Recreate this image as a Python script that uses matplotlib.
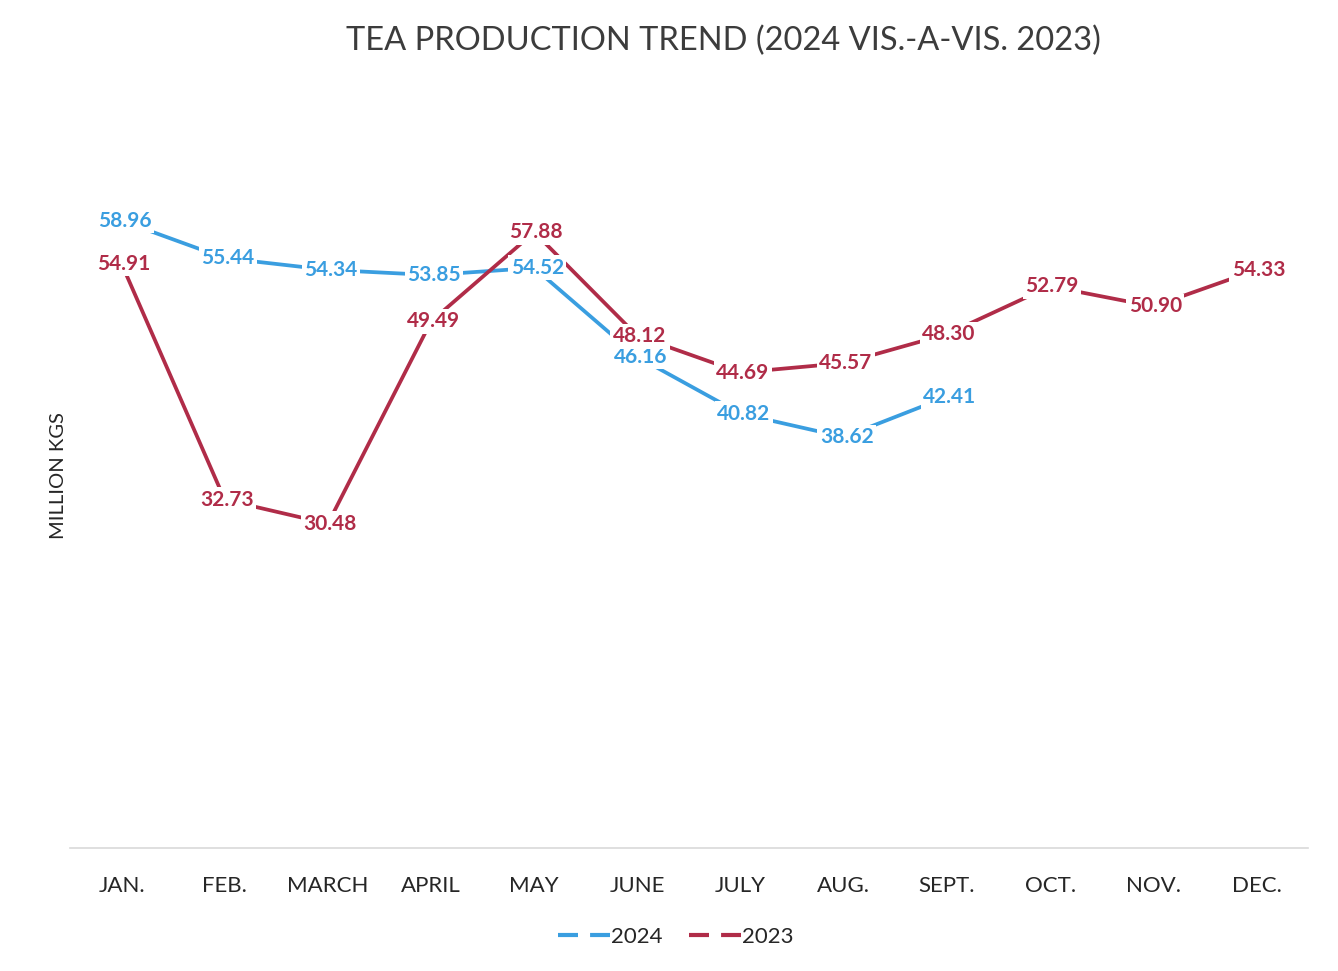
import numpy as np
import matplotlib.pyplot as plt
from matplotlib.lines import Line2D

months = ["JAN.", "FEB.", "MARCH", "APRIL", "MAY", "JUNE", "JULY", "AUG.",
          "SEPT.", "OCT.", "NOV.", "DEC."]
prod_2024 = [58.96, 55.44, 54.34, 53.85, 54.52, 46.16, 40.82, 38.62, 42.41]
prod_2023 = [54.91, 32.73, 30.48, 49.49, 57.88, 48.12, 44.69, 45.57, 48.30,
             52.79, 50.90, 54.33]

blue = "#3a9ee0"
red = "#b02c48"
font = "Lato"

plt.rcParams['font.family'] = [font, 'DejaVu Sans']

fig = plt.figure(figsize=(13.38, 9.71), dpi=100)
ax = fig.add_axes([0.0523, 0.1267, 0.9253, 0.767])

x = np.arange(len(months))
x24 = x[:len(prod_2024)]

ax.plot(x24, prod_2024, color=blue, lw=2.7, zorder=2)
ax.plot(x, prod_2023, color=red, lw=2.7, zorder=2)

for xi, v in zip(x24, prod_2024):
    ax.text(xi + 0.03, v, f"{v:.2f}", color=blue, fontsize=15, fontweight='bold',
            ha='center', va='center', zorder=3,
            bbox=dict(boxstyle='square,pad=0.12', fc='white', ec='none'))
for xi, v in zip(x, prod_2023):
    ax.text(xi + 0.02, v, f"{v:.2f}", color=red, fontsize=15, fontweight='bold',
            ha='center', va='center', zorder=3,
            bbox=dict(boxstyle='square,pad=0.12', fc='white', ec='none'))

ax.set_xlim(-0.5, len(months) - 0.5)
ax.set_ylim(0, 70)
ax.set_xticks(x)
ax.set_xticklabels(months, fontsize=16, color="#262626")
ax.tick_params(axis='x', length=0, pad=20)
ax.set_yticks([])
for s in ['top', 'right', 'left']:
    ax.spines[s].set_visible(False)
ax.spines['bottom'].set_color("#d9d9d9")
ax.spines['bottom'].set_linewidth(1.2)

ax.set_ylabel("MILLION KGS", fontsize=14.5, color="#262626", labelpad=2)

fig.text(0.541, 0.958, "TEA PRODUCTION TREND (2024 VIS.-A-VIS. 2023)",
         fontsize=23.5, color="#3c3c3c", ha='center', va='center')

handles = [Line2D([], [], color=blue, lw=3, ls=(0, (4.8, 2.9))),
           Line2D([], [], color=red, lw=3, ls=(0, (4.8, 2.9)))]
fig.legend(handles, ["2024", "2023"], loc='center', bbox_to_anchor=(0.505, 0.035),
           ncol=2, frameon=False, fontsize=16, handlelength=2.35,
           handletextpad=0.05, columnspacing=1.2, labelcolor="#262626")

fig.savefig("out.png", dpi=100, facecolor='white')
